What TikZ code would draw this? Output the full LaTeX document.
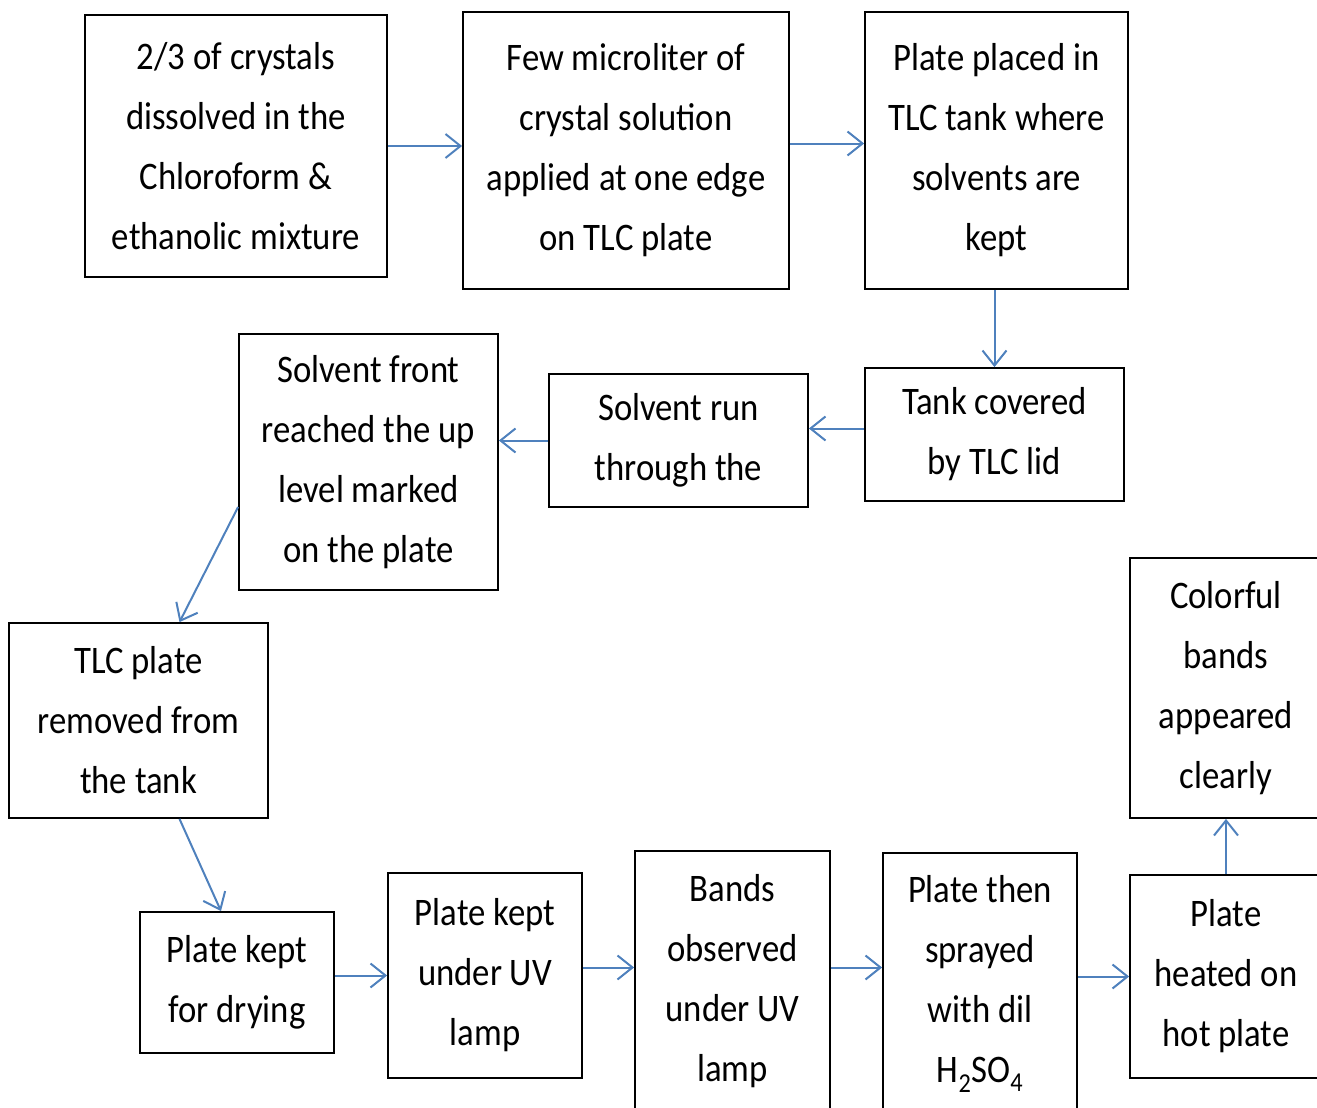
\documentclass[tikz,border=0pt]{standalone}
\usepackage{fontspec}
\setmainfont{Carlito}[FakeStretch=0.89]
\usetikzlibrary{arrows.meta}
\definecolor{flowblue}{RGB}{79,129,189}
\begin{document}
\begin{tikzpicture}[x=1pt,y=-1pt,
  stepbox/.style={draw=black, line width=1.8pt, align=center, inner sep=2pt,
    font=\fontsize{39}{60}\selectfont},
  flow/.style={draw=flowblue, line width=2pt,
    -{Straight Barb[length=15pt,width=24pt,line width=2pt]}}]
\useasboundingbox (0,0) rectangle (1317,1108);
\clip (0,0) rectangle (1317,1108);
% first row
\node[stepbox, minimum width=302pt, minimum height=262pt] (dissolve) at (236,146)
  {2/3 of crystals\\dissolved in the\\Chloroform \&\\ethanolic mixture};
\node[stepbox, minimum width=326pt, minimum height=277pt] (apply) at (626,150.5)
  {Few microliter of\\crystal solution\\applied at one edge\\on TLC plate};
\node[stepbox, minimum width=263pt, minimum height=277pt] (tank) at (996.5,150.5)
  {Plate placed in\\TLC tank where\\solvents are\\kept};
% second row
\node[stepbox, minimum width=259pt, minimum height=133pt] (lid) at (994.5,434.5)
  {Tank covered\\by TLC lid};
\node[stepbox, minimum width=259pt, minimum height=133pt] (run) at (678.5,440.5)
  {Solvent run\\through the};
\node[stepbox, minimum width=259pt, minimum height=256pt] (front) at (368.5,462)
  {Solvent front\\reached the up\\level marked\\on the plate};
\node[stepbox, minimum width=259pt, minimum height=195pt] (removed) at (138.5,720.5)
  {TLC plate\\removed from\\the tank};
% bottom row
\node[stepbox, minimum width=194pt, minimum height=141pt] (drying) at (237,982.5)
  {Plate kept\\for drying};
\node[stepbox, minimum width=194pt, minimum height=205pt] (uv) at (485,975.5)
  {Plate kept\\under UV\\lamp};
\node[stepbox, minimum width=195pt, minimum height=261pt] (bands) at (732.5,981.5)
  {Bands\\observed\\under UV\\lamp};
\node[stepbox, minimum width=194pt, minimum height=262pt] (spray) at (980,984)
  {Plate then\\sprayed\\with dil\\H\textsubscript{2}SO\textsubscript{4}};
\node[stepbox, minimum width=192pt, minimum height=203pt] (heat) at (1226,976.5)
  {Plate\\heated on\\hot plate};
\node[stepbox, minimum width=192pt, minimum height=260pt] (colour) at (1226,688)
  {Colorful\\bands\\appeared\\clearly};
% connectors
\draw[flow] (dissolve.east) -- (dissolve.east -| apply.west);
\draw[flow] ([yshift=7pt]apply.east) -- ([yshift=7pt]tank.west);
\draw[flow] (tank.south -| lid.north) -- (lid.north);
\draw[flow] ([yshift=6pt]lid.west) -- ([yshift=6pt]lid.west -| run.east);
\draw[flow] (run.west) -- (run.west -| front.east);
\draw[flow] ([yshift=-45pt]front.west) -- ([xshift=41pt]removed.north);
\draw[flow] ([xshift=41pt]removed.south) -- ([xshift=-16pt]drying.north);
\draw[flow] (uv.west -| drying.east) -- (uv.west);
\draw[flow] ([yshift=8pt]uv.east) -- ([yshift=8pt]uv.east -| bands.west);
\draw[flow] ([yshift=14pt]bands.east) -- ([yshift=14pt]bands.east -| spray.west);
\draw[flow] (heat.west -| spray.east) -- (heat.west);
\draw[flow] (heat.north) -- (colour.south);
\end{tikzpicture}
\end{document}
